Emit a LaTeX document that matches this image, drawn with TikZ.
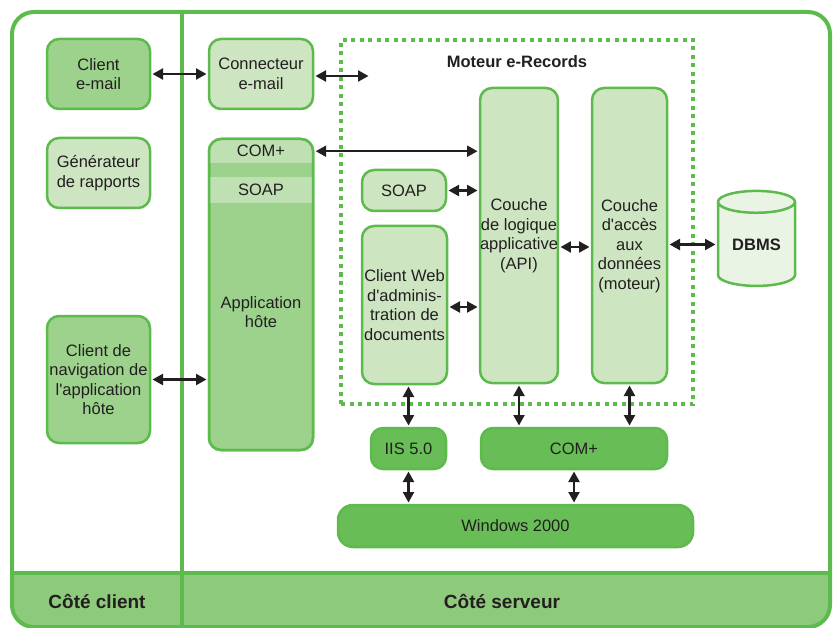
\documentclass[tikz,border=0pt]{standalone}
\usepackage{fontspec}
\setmainfont{Liberation Sans}[Ligatures=TeXOff]
\usetikzlibrary{positioning, arrows.meta, shapes.geometric, calc}
\definecolor{linegreen}{RGB}{93,186,77}
\definecolor{midfill}{RGB}{157,210,140}
\definecolor{lightfill}{RGB}{205,229,193}
\definecolor{bandfill}{RGB}{190,224,178}
\definecolor{darkfill}{RGB}{104,189,86}
\definecolor{footfill}{RGB}{141,202,123}
\definecolor{dbfill}{RGB}{233,244,228}
\definecolor{inktext}{RGB}{35,31,32}
\tikzset{
  block/.style={
    draw=linegreen,
    line width=2.5pt,
    rectangle,
    rounded corners=12pt,
    inner sep=0pt,
    outer sep=0pt,
    align=center,
    text=inktext,
    font=\fontsize{16.5}{19.5}\selectfont,
    fill=lightfill
  },
  midblock/.style={block, fill=midfill},
  darkblock/.style={block, fill=darkfill},
  band/.style={
    rectangle,
    fill=bandfill,
    inner sep=0pt,
    text=inktext,
    font=\fontsize{16.5}{19.5}\selectfont
  },
  textlabel/.style={
    align=center,
    inner sep=0pt,
    text=inktext,
    font=\fontsize{16.5}{19.5}\selectfont
  },
  title/.style={
    inner sep=0pt,
    text=inktext,
    font=\fontsize{16.5}{19.5}\selectfont\bfseries
  },
  sidelabel/.style={
    inner sep=0pt,
    text=inktext,
    font=\fontsize{19}{22}\selectfont\bfseries
  },
  engine/.style={
    draw=linegreen,
    line width=3.5pt,
    dash pattern=on 4pt off 4.5pt,
    rectangle,
    inner sep=0pt,
    outer sep=0pt
  },
  database/.style={
    draw=linegreen,
    line width=2.5pt,
    cylinder,
    shape border rotate=90,
    aspect=0.45,
    fill=dbfill,
    inner sep=0pt,
    outer sep=0pt,
    text=inktext,
    font=\fontsize{16.5}{19.5}\selectfont\bfseries
  },
  frame/.style={
    draw=linegreen,
    line width=4pt
  },
  link/.style={
    {Triangle[length=10.5pt,width=11pt]}-{Triangle[length=10.5pt,width=11pt]},
    line width=2.2pt,
    draw=inktext,
    shorten >=2.5pt,
    shorten <=2.5pt
  }
}

\begin{document}
\begin{tikzpicture}[x=1pt, y=-1pt]
    \useasboundingbox (0,0) rectangle (837,628);

    % outer frame and footer
    \begin{scope}
      \clip[rounded corners=22pt] (12,12) rectangle (830,627);
      \fill[footfill] (12,573) rectangle (830,630);
    \end{scope}
    \draw[frame, rounded corners=22pt] (12,12) rectangle (830,627);
    \draw[frame] (182,12) -- (182,627);
    \draw[frame] (12,573) -- (830,573);
    \node[sidelabel] (clientside) at (97,601) {Côté client};
    \node[sidelabel] (serverside) at (502,601) {Côté serveur};

    % client side
    \node[midblock, minimum width=103pt, minimum height=70pt] (cmail) at (98.5,74) {Client\\e-mail};
    \node[block, minimum width=103pt, minimum height=70pt, below=29pt of cmail] (reports) {Générateur\\de rapports};
    \node[midblock, minimum width=103pt, minimum height=127pt] (nav) at (98.5,379.5) {Client de\\navigation de\\l'application\\hôte};

    % host application
    \node[block, minimum width=104pt, minimum height=70pt, right=59pt of cmail] (connector) {Connecteur\\e-mail};
    \node[midblock, minimum width=104pt, minimum height=311pt] (host) at (261,294.5) {};
    \begin{scope}
      \clip[rounded corners=12pt] (host.south west) rectangle (host.north east);
      \node[band, minimum width=104pt, minimum height=24pt, anchor=north] (hostcom) at (host.north) {COM+};
      \node[band, minimum width=104pt, minimum height=26pt, anchor=north] (hostsoap) at (261,177) {SOAP};
    \end{scope}
    \draw[draw=linegreen, line width=2.5pt, rounded corners=12pt] (host.south west) rectangle (host.north east);
    \node[textlabel] (hostname) at (261,312) {Application\\hôte};

    % e-Records engine
    \node[engine, minimum width=352pt, minimum height=364pt] (engine) at (517,222) {};
    \node[title] (enginetitle) at (517,62) {Moteur e-Records};
    \node[block, minimum width=76pt, minimum height=295pt] (logic) at (519,235.5) {Couche\\de logique\\applicative\\(API)};
    \node[block, minimum width=75pt, minimum height=295pt] (access) at (629.5,235.5) {};
    \node[textlabel] (accesstext) at (629.5,246) {Couche\\d'accès\\aux\\données\\(moteur)};
    \node[block, minimum width=84pt, minimum height=41pt] (soap) at (404,190.5) {SOAP};
    \node[block, minimum width=85pt, minimum height=158pt] (webadmin) at (404.5,305) {Client Web\\d'adminis-\\tration de\\documents};
    \node[database, minimum width=77pt, minimum height=95pt] (dbms) at (756.5,244.5) {DBMS};

    % platform
    \node[darkblock, minimum width=75pt, minimum height=41pt] (iis) at (408.5,448.5) {IIS 5.0};
    \node[darkblock, minimum width=186pt, minimum height=41pt] (complus) at (574,448.5) {COM+};
    \node[darkblock, minimum width=355pt, minimum height=42pt, rounded corners=15pt] (windows) at (515.5,526) {Windows 2000};

    \coordinate (mailend) at (371,76);

    \draw[link] (cmail.east) -- (connector.west);
    \draw[link] ([yshift=-2pt]connector.east) -- (mailend);
    \draw[link] (hostcom.east) -- (hostcom.east -| logic.west);
    \draw[link] (nav.east) -- (nav.east -| host.west);
    \draw[link] (soap.east) -- (soap.east -| logic.west);
    \draw[link] ([yshift=-2pt]webadmin.east) -- ([yshift=-2pt]webadmin.east -| logic.west);
    \draw[link] ([yshift=-11.5pt]logic.east) -- ([yshift=-11.5pt]access.west);
    \draw[link] (access.east |- dbms.west) -- (dbms.west);
    \draw[link] (iis.north |- webadmin.south) -- (iis.north);
    \draw[link] (logic.south) -- (logic.south |- complus.north);
    \draw[link] (access.south) -- (access.south |- complus.north);
    \draw[link] (iis.south) -- (iis.south |- windows.north);
    \draw[link] (complus.south) -- (complus.south |- windows.north);
\end{tikzpicture}
\end{document}
